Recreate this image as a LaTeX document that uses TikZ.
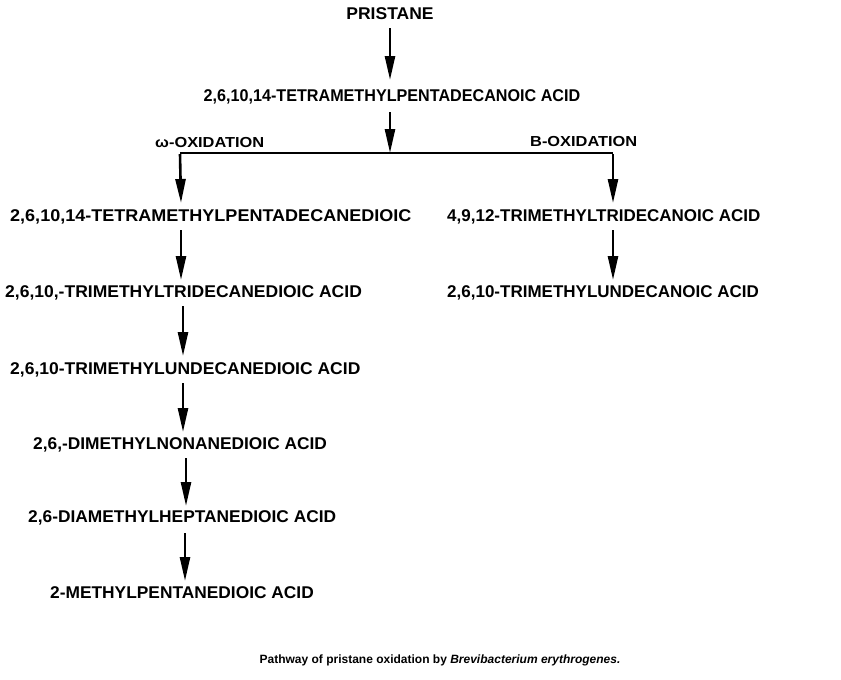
\documentclass[tikz,border=0pt]{standalone}
\usepackage{fontspec}
\setmainfont{Liberation Sans}
\usetikzlibrary{arrows.meta}
\begin{document}
\begin{tikzpicture}[x=1pt,y=-1pt,
  chem/.style={font=\bfseries\fontsize{17}{19}\selectfont, inner sep=0pt, anchor=west},
  lbl/.style={font=\bfseries\fontsize{14.5}{16}\selectfont, inner sep=0pt, anchor=west},
  rxn/.style={line width=2.6pt, -{Triangle[length=24pt,width=10pt]}},
  bar/.style={line width=2pt}]
\useasboundingbox (0,0) rectangle (841,680);
\node[chem, anchor=center] (p) at (390,14) {\scalebox{1.03}[1]{PRISTANE}};
\node[chem, anchor=center] (t) at (392,97) {\scalebox{0.95}[1]{2,6,10,14-TETRAMETHYLPENTADECANOIC ACID}};
\node[lbl] (om) at (155,143) {\scalebox{1.13}[1]{ω-OXIDATION}};
\node[lbl] (be) at (530,142) {\scalebox{1.13}[1]{B-OXIDATION}};
\coordinate (j) at (390,153);
\coordinate (jl) at (180,153);
\coordinate (jr) at (613,153);
\node[chem] (l1) at (10,217) {\scalebox{1.06}[1]{2,6,10,14-TETRAMETHYLPENTADECANEDIOIC}};
\node[chem] (l2) at (5,293) {\scalebox{1.03}[1]{2,6,10,-TRIMETHYLTRIDECANEDIOIC ACID}};
\node[chem] (l3) at (10,370) {\scalebox{1.03}[1]{2,6,10-TRIMETHYLUNDECANEDIOIC ACID}};
\node[chem] (l4) at (33,445) {\scalebox{1.02}[1]{2,6,-DIMETHYLNONANEDIOIC ACID}};
\node[chem] (l5) at (28,518) {\scalebox{1.02}[1]{2,6-DIAMETHYLHEPTANEDIOIC ACID}};
\node[chem] (l6) at (50,593) {\scalebox{1.02}[1]{2-METHYLPENTANEDIOIC ACID}};
\node[chem] (r1) at (447,217) {4,9,12-TRIMETHYLTRIDECANOIC ACID};
\node[chem] (r2) at (447,293) {2,6,10-TRIMETHYLUNDECANOIC ACID};
\node[font=\bfseries\fontsize{12}{14}\selectfont, inner sep=0pt] (cap) at (440,660) {Pathway of pristane oxidation by \textit{Brevibacterium erythrogenes.}};
% arrows
\draw[rxn] (390,28) -- (390,80);
\draw[rxn] (390,112) -- (j);
\draw[bar] (jl) -- (jr);
\draw[rxn] ([yshift=-1pt]jl) -- (181,203);
\draw[rxn] ([yshift=-1pt]jr) -- (613,203);
\draw[rxn] (181,230) -- (181,280);
\draw[rxn] (183,306) -- (183,356);
\draw[rxn] (183,383) -- (183,432);
\draw[rxn] (186,458) -- (186,506);
\draw[rxn] (185,533) -- (185,581);
\draw[rxn] (613,230) -- (613,280);
\end{tikzpicture}
\end{document}
